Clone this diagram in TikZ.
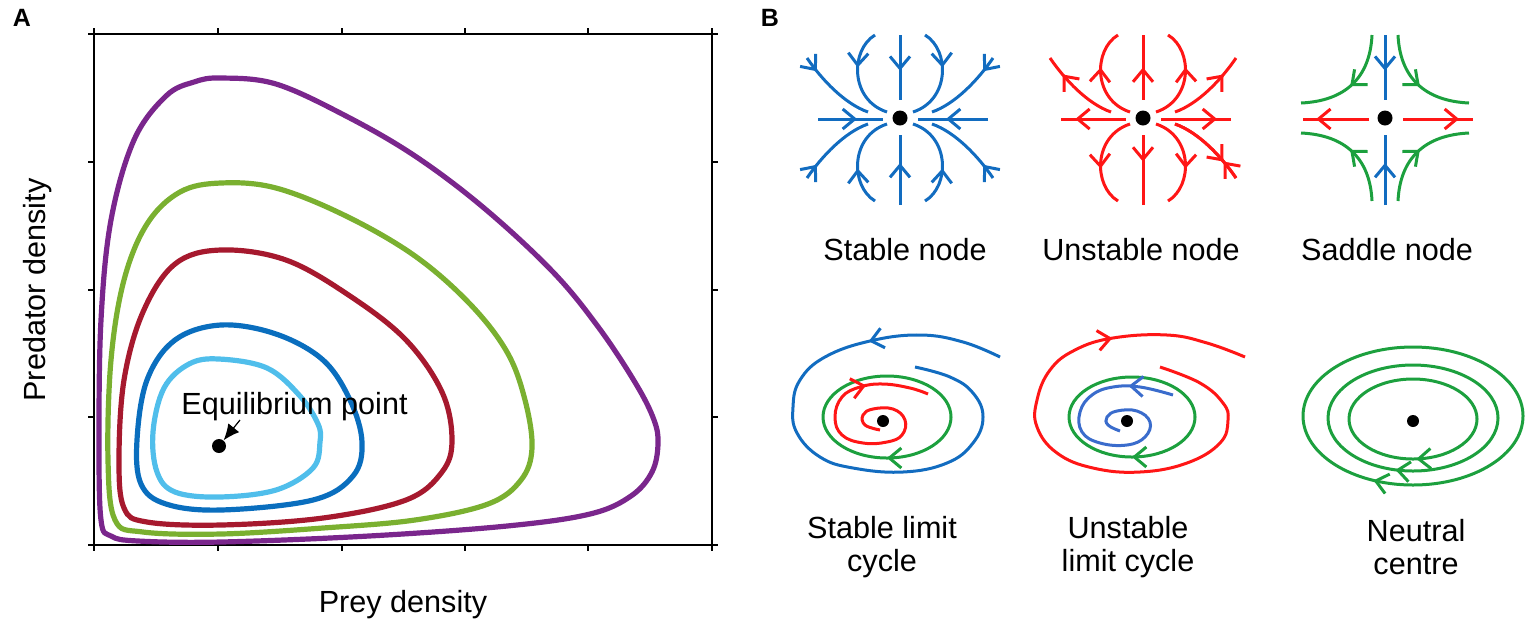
\documentclass[tikz,border=0pt]{standalone}
\usepackage{fontspec}
\setmainfont{Liberation Sans}
\usetikzlibrary{arrows.meta,decorations.markings}
\definecolor{orbpurple}{RGB}{122,38,140}
\definecolor{orbgreen}{RGB}{122,176,48}
\definecolor{orbred}{RGB}{166,25,46}
\definecolor{orbblue}{RGB}{10,110,190}
\definecolor{orblight}{RGB}{80,190,235}
\definecolor{fpblue}{RGB}{18,108,192}
\definecolor{fpred}{RGB}{255,22,22}
\definecolor{fpgreen}{RGB}{28,160,62}
\definecolor{fpsoft}{RGB}{58,108,204}

\begin{document}
\begin{tikzpicture}[
   x=0.5pt, y=-0.5pt,
   frame/.style={line width=0.6pt},
   orbit/.style={line width=2.6pt},
   traj/.style={line width=1.5pt},
   flow/.style={postaction={decorate}, decoration={markings,
      mark=at position #1 with {\arrow{Straight Barb[length=6pt,width=10pt]}}}},
   backflow/.style={postaction={decorate}, decoration={markings,
      mark=at position #1 with {\arrowreversed{Straight Barb[length=6pt,width=10pt]}}}},
   fixpt/.style={circle, fill=black, inner sep=0pt, minimum size=#1},
   caption/.style={font=\fontsize{15.3}{16.5}\selectfont, inner sep=0pt, align=center},
   panel/.style={font=\fontsize{12.5}{14}\selectfont\bfseries, inner sep=0pt},
   pointer/.style={-{Latex[length=8pt,width=7pt]}, line width=0.6pt}
]
\useasboundingbox (0,0) rectangle (1535,628);

% panel A: predator-prey orbits
\node[panel] (labA) at (22,18) {A};
\draw[frame] (94,34) rectangle (712,545);
\foreach \tx in {94,218,342,465,588,712} {
   \draw[frame] (\tx,34) -- ++(0,-6);
   \draw[frame] (\tx,545) -- ++(0,6);
}
\foreach \ty in {34,162,290,417,545} {
   \draw[frame] (94,\ty) -- ++(-6,0);
   \draw[frame] (712,\ty) -- ++(6,0);
}
\draw[orbit, orbpurple] plot[smooth cycle, tension=0.6] coordinates {
   (221,78) (276,84) (346,116) (415,156) (484,208) (553,272) (599,328)
   (636,384) (654,420) (658,444) (652,472) (631,496) (590,514) (507,526)
   (369,536) (221,542) (138,541) (111,536) (101,520) (99,440) (101,320)
   (111,220) (134,140) (166,96) (194,82)};
\draw[orbit, orbgreen] plot[smooth cycle, tension=0.6] coordinates {
   (221,183) (276,188) (346,216) (415,256) (470,304) (507,352) (525,400)
   (532,448) (521,480) (488,504) (415,520) (323,528) (221,534) (143,532)
   (115,520) (108,460) (111,360) (124,280) (147,224) (180,192)};
\draw[orbit, orbred] plot[smooth cycle, tension=0.6] coordinates {
   (221,250) (286,260) (350,296) (406,340) (442,392) (452,440) (442,472)
   (406,500) (323,518) (221,525) (147,522) (124,508) (119,460) (124,380)
   (143,312) (175,264)};
\draw[orbit, orbblue] plot[smooth cycle, tension=0.6] coordinates {
   (221,325) (276,334) (323,360) (350,400) (362,442) (353,476) (313,500)
   (221,510) (166,504) (141,484) (137,440) (147,380) (175,340)};
\draw[orbit, orblight] plot[smooth cycle, tension=0.6] coordinates {
   (219,359) (267,368) (300,396) (318,424) (320,442) (313,468) (276,490)
   (219,497) (175,492) (157,472) (153,432) (164,388) (189,364)};
\node[fixpt=7pt] (eq) at (219,446) {};
\node[caption, anchor=base west] (eqlab) at (181,414) {Equilibrium point};
\coordinate (eqtail) at (240,420);
\draw[pointer] (eqtail) -- (eq);
\node[caption, rotate=90] (ylab) at (38,290) {Predator density};
\node[caption] (xlab) at (403,605) {Prey density};

% panel B: fixed points
\node[panel] (labB) at (770,18) {B};

% stable node
\node[fixpt=7.5pt] (sn) at (900,118) {};
\begin{scope}[shift={(900,118)}, traj, fpblue]
   \draw[flow=0.55] (0,-83) -- (0,-18);
   \draw[flow=0.6] (0,87) -- (0,17);
   \draw[flow=0.6] (-82,1) -- (-17,1);
   \draw[flow=0.6] (88,1) -- (18,1);
   \foreach \sx/\sy in {1/1,-1/1,1/-1,-1/-1} {
      \begin{scope}[xscale=\sx, yscale=\sy]
         \draw[flow=0.4] (-25,-83) .. controls (-50,-68) and (-50,-18) .. (-13,-6);
         \draw[flow=0.2] (-93,-60) .. controls (-78,-38) and (-55,-14) .. (-32,-6);
      \end{scope}
   }
\end{scope}
\node[caption] (capsn) at (905,250) {Stable node};

% unstable node
\node[fixpt=7.5pt] (un) at (1143,118) {};
\begin{scope}[shift={(1143,118)}, traj, fpred]
   \draw[backflow=0.5] (0,-83) -- (0,-18);
   \draw[backflow=0.62] (0,87) -- (0,17);
   \draw[backflow=0.22] (-82,1) -- (-17,1);
   \draw[backflow=0.2] (88,1) -- (18,1);
   \foreach \sx/\sy in {1/1,-1/1,1/-1,-1/-1} {
      \begin{scope}[xscale=\sx, yscale=\sy]
         \draw[backflow=0.4] (-25,-83) .. controls (-50,-68) and (-50,-18) .. (-13,-6);
      \end{scope}
   }
   \foreach \sx/\sy in {1/1,-1/1,-1/-1} {
      \begin{scope}[xscale=\sx, yscale=\sy]
         \draw[backflow=0.25] (-93,-60) .. controls (-78,-38) and (-55,-14) .. (-32,-6);
      \end{scope}
   }
   \draw[flow=0.25] (93,60) .. controls (78,38) and (55,14) .. (32,6);
\end{scope}
\node[caption] (capun) at (1141,250) {Unstable node};

% saddle node
\node[fixpt=7.5pt] (sd) at (1385,118) {};
\begin{scope}[shift={(1385,118)}, traj]
   \draw[fpblue, flow=0.55] (0,-83) -- (0,-18);
   \draw[fpblue, flow=0.6] (0,87) -- (0,17);
   \draw[fpred, flow=0.8] (-16,1) -- (-82,1);
   \draw[fpred, flow=0.8] (18,1) -- (88,1);
   \foreach \sx/\sy in {1/1,-1/1,1/-1,-1/-1} {
      \begin{scope}[xscale=\sx, yscale=\sy]
         \draw[fpgreen, flow=0.52] (-13,-83) .. controls (-15,-40) and (-40,-17) .. (-84,-15);
      \end{scope}
   }
\end{scope}
\node[caption] (capsd) at (1387,250) {Saddle node};

% stable limit cycle
\node[fixpt=6pt] (slc) at (883,421) {};
\draw[traj, fpgreen, flow=0.25] (887,417) ellipse [x radius=64, y radius=41];
\draw[traj, fpred, flow=0.78] plot[smooth, tension=0.7] coordinates {
   (880,430) (865,425) (863,415) (873,409) (893,409) (905,420) (902,435)
   (887,442) (863,443) (842,435) (835,417) (842,397) (860,387) (883,384)
   (910,388) (928,394)};
\draw[traj, fpblue, flow=0.23] plot[smooth, tension=0.7] coordinates {
   (1000,357) (963,342) (920,335) (870,341) (825,357) (800,380) (793,407)
   (797,433) (820,457) (853,468) (903,472) (947,463) (973,443) (983,417)
   (973,393) (950,377) (915,367)};
\node[caption] (capslc) at (882,547) {Stable limit\\cycle};

% unstable limit cycle
\node[fixpt=6pt] (ulc) at (1127,421) {};
\draw[traj, fpgreen, flow=0.25] (1132,417) ellipse [x radius=63, y radius=40];
\draw[traj, fpsoft, flow=0.16] plot[smooth, tension=0.7] coordinates {
   (1173,395) (1140,387) (1113,387) (1092,395) (1080,412) (1082,432)
   (1100,443) (1127,445) (1145,437) (1150,422) (1137,411) (1117,411)
   (1107,417) (1108,425) (1120,431)};
\draw[traj, fpred, flow=0.77] plot[smooth, tension=0.7] coordinates {
   (1160,367) (1200,383) (1223,403) (1228,420) (1220,443) (1187,463)
   (1140,472) (1093,468) (1057,453) (1037,427) (1037,400) (1050,370)
   (1075,350) (1113,338) (1167,335) (1207,343) (1245,357)};
\node[caption] (capulc) at (1128,547) {Unstable\\limit cycle};

% neutral centre
\node[fixpt=6pt] (nc) at (1413,421) {};
\draw[traj, fpgreen, flow=0.24] (1413,419) ellipse [x radius=64, y radius=40];
\draw[traj, fpgreen, flow=0.29] (1413,418) ellipse [x radius=85, y radius=53];
\draw[traj, fpgreen, flow=0.32] (1413,416) ellipse [x radius=110, y radius=69];
\node[caption] (capnc) at (1416,547) {Neutral\\centre};
\end{tikzpicture}
\end{document}
